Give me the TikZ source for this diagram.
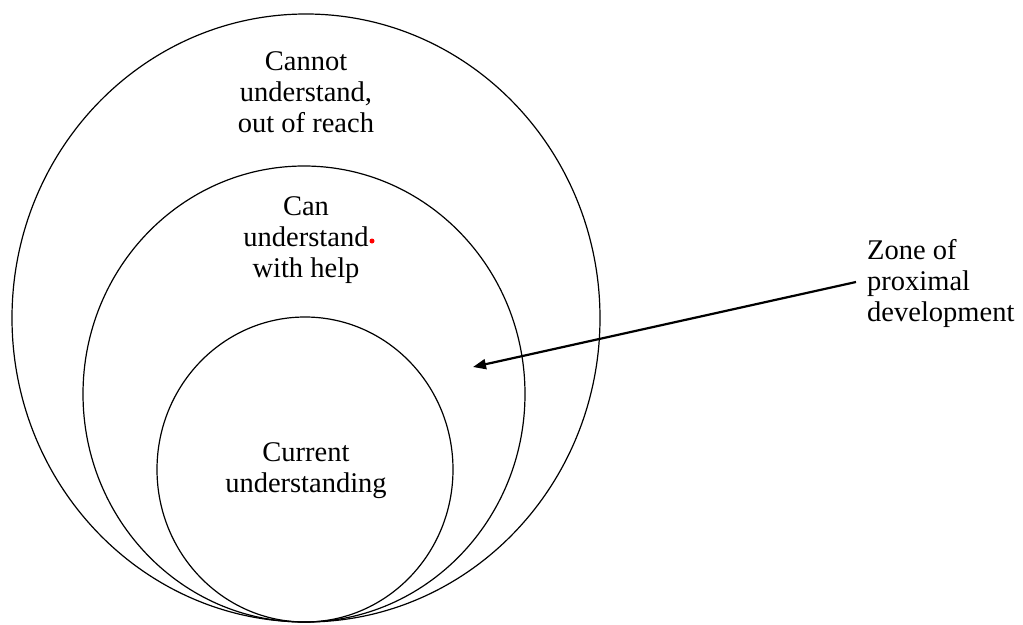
\documentclass[tikz,border=0pt]{standalone}
\usepackage{fontspec}
\setmainfont{Liberation Serif}
\usetikzlibrary{arrows.meta,shapes.geometric}
\begin{document}
\begin{tikzpicture}[x=1pt,y=-1pt,
  zone/.style={ellipse, draw, line width=1.2pt, inner sep=0pt, outer sep=0pt},
  label/.style={align=center, font=\fontsize{28.5}{31}\selectfont, inner sep=0pt},
  pointer/.style={line width=2.2pt, -{Triangle[length=13pt,width=10pt]}}]
\useasboundingbox[fill=white] (0,0) rectangle (1023,624);
\node[zone, minimum width=588pt, minimum height=608pt] (outer) at (306,318) {};
\node[zone, minimum width=442pt, minimum height=456pt] (middle) at (304,394) {};
\node[zone, minimum width=296pt, minimum height=305pt] (inner) at (305,469.5) {};
\node[label] (cannot) at (306,92) {Cannot\\understand,\\out of reach};
\node[label] (can) at (306,240) {Can\\understand\\with help};
\node[label] (current) at (306,471) {Current\\understanding};
\node[label, align=left, anchor=west] (zpd) at (867,283) {Zone of\\proximal\\development};
\node[circle, fill=red, inner sep=0pt, minimum size=5pt] (dot) at (372,241) {};
\coordinate (tip) at (473,367);
\draw[pointer] ([xshift=-11pt,yshift=1pt]zpd.west) -- (tip);
\end{tikzpicture}
\end{document}
